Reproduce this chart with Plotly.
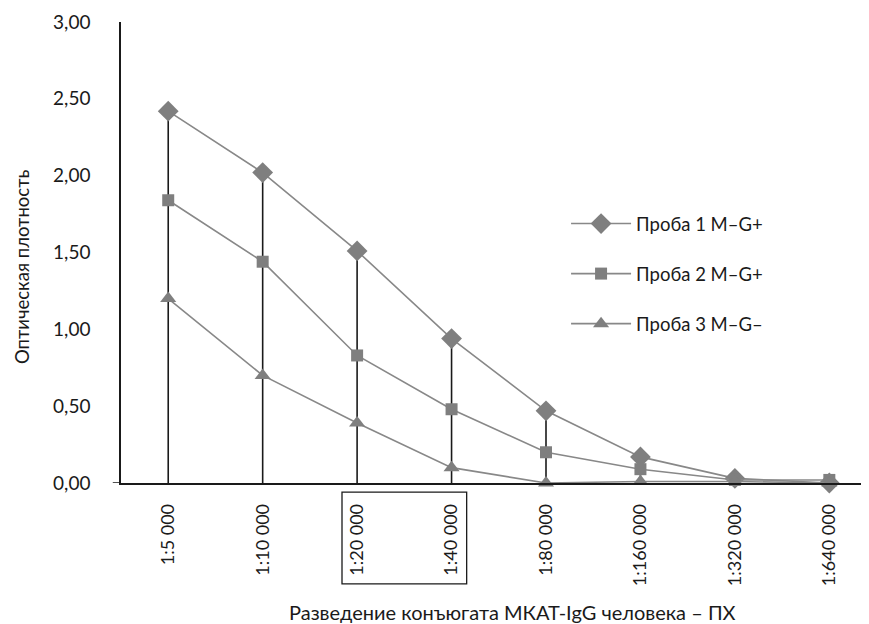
import plotly.graph_objects as go

categories = ["1:5 000", "1:10 000", "1:20 000", "1:40 000", "1:80 000", "1:160 000", "1:320 000", "1:640 000"]
sample1 = [2.42, 2.02, 1.51, 0.94, 0.47, 0.17, 0.03, 0.00]
sample2 = [1.84, 1.44, 0.83, 0.48, 0.20, 0.09, 0.02, 0.02]
sample3 = [1.20, 0.70, 0.39, 0.10, 0.00, 0.01, 0.01, 0.00]
names = ["Проба 1 M–G+", "Проба 2 M–G+", "Проба 3 M–G–"]
y_ticks = [0, 0.5, 1.0, 1.5, 2.0, 2.5, 3.0]
y_ticklabels = ["0,00", "0,50", "1,00", "1,50", "2,00", "2,50", "3,00"]

FONT = "Lato"
GRAY_LINE = "#888888"
GRAY_MARK = "#7f7f7f"
INK = "#1a1a1a"

fig = go.Figure()

# drop lines (from the highest series down to the axis)
drop = [max(a, b, c) for a, b, c in zip(sample1, sample2, sample3)]
fig.add_trace(go.Scatter(
    x=categories, y=drop, mode="markers",
    marker=dict(size=1, opacity=0),
    error_y=dict(type="data", symmetric=False, array=[0] * len(drop),
                 arrayminus=drop, width=0, thickness=1.6, color=INK),
    showlegend=False, hoverinfo="skip"))

symbols = ["diamond", "square", "triangle-up"]
sizes = [16, 12, 14]
for i, (vals, nm) in enumerate(zip([sample1, sample2, sample3], names)):
    fig.add_trace(go.Scatter(
        x=categories, y=vals, mode="lines+markers", name=nm,
        legendgroup=f"g{i}",
        line=dict(color=GRAY_LINE, width=1.6),
        marker=dict(symbol=symbols[i], size=sizes[i], color=GRAY_MARK,
                    line=dict(width=0)),
        cliponaxis=False))

fig.update_layout(
    width=861, height=616,
    margin=dict(l=113, r=0, t=14, b=141),
    paper_bgcolor="white", plot_bgcolor="white",
    font=dict(family=FONT, size=19, color=INK),
    showlegend=True,
    legend=dict(x=0.595, y=0.603, xanchor="left", yanchor="top",
                font=dict(family=FONT, size=18.5, color=INK),
                itemwidth=60, tracegroupgap=23, traceorder="grouped",
                bgcolor="rgba(0,0,0,0)"),
    xaxis=dict(type="category", range=[-0.5, 7.42],
               showline=True, linecolor=INK, linewidth=1.5,
               showgrid=False, zeroline=False, ticks="",
               tickangle=-90, tickfont=dict(family=FONT, size=18),
               ticklabelstandoff=12, fixedrange=True),
    yaxis=dict(range=[0, 3.0], tickvals=y_ticks, ticktext=y_ticklabels,
               showline=True, linecolor=INK, linewidth=1.5,
               showgrid=False, zeroline=False, ticks="",
               tickfont=dict(family=FONT, size=19),
               ticklabelstandoff=25),
    annotations=[
        dict(text="Оптическая плотность", x=-0.132, y=0.469, xref="paper", yref="paper",
             textangle=-90, showarrow=False, font=dict(family=FONT, size=18.5),
             xanchor="center", yanchor="middle"),
        dict(text="Разведение конъюгата МКАТ-IgG человека – ПХ", x=0.523, y=-0.28,
             xref="paper", yref="paper", showarrow=False,
             font=dict(family=FONT, size=20), xanchor="center", yanchor="middle"),
    ],
    shapes=[
        dict(type="rect", xref="x", yref="paper", x0=1.84, x1=3.16, y0=-0.02, y1=-0.219,
             line=dict(color=INK, width=1.3)),
        dict(type="line", xref="paper", yref="y", x0=-0.011, x1=0, y0=0, y1=0,
             line=dict(color=INK, width=1.5)),
    ],
)

fig.write_html("out.html")
